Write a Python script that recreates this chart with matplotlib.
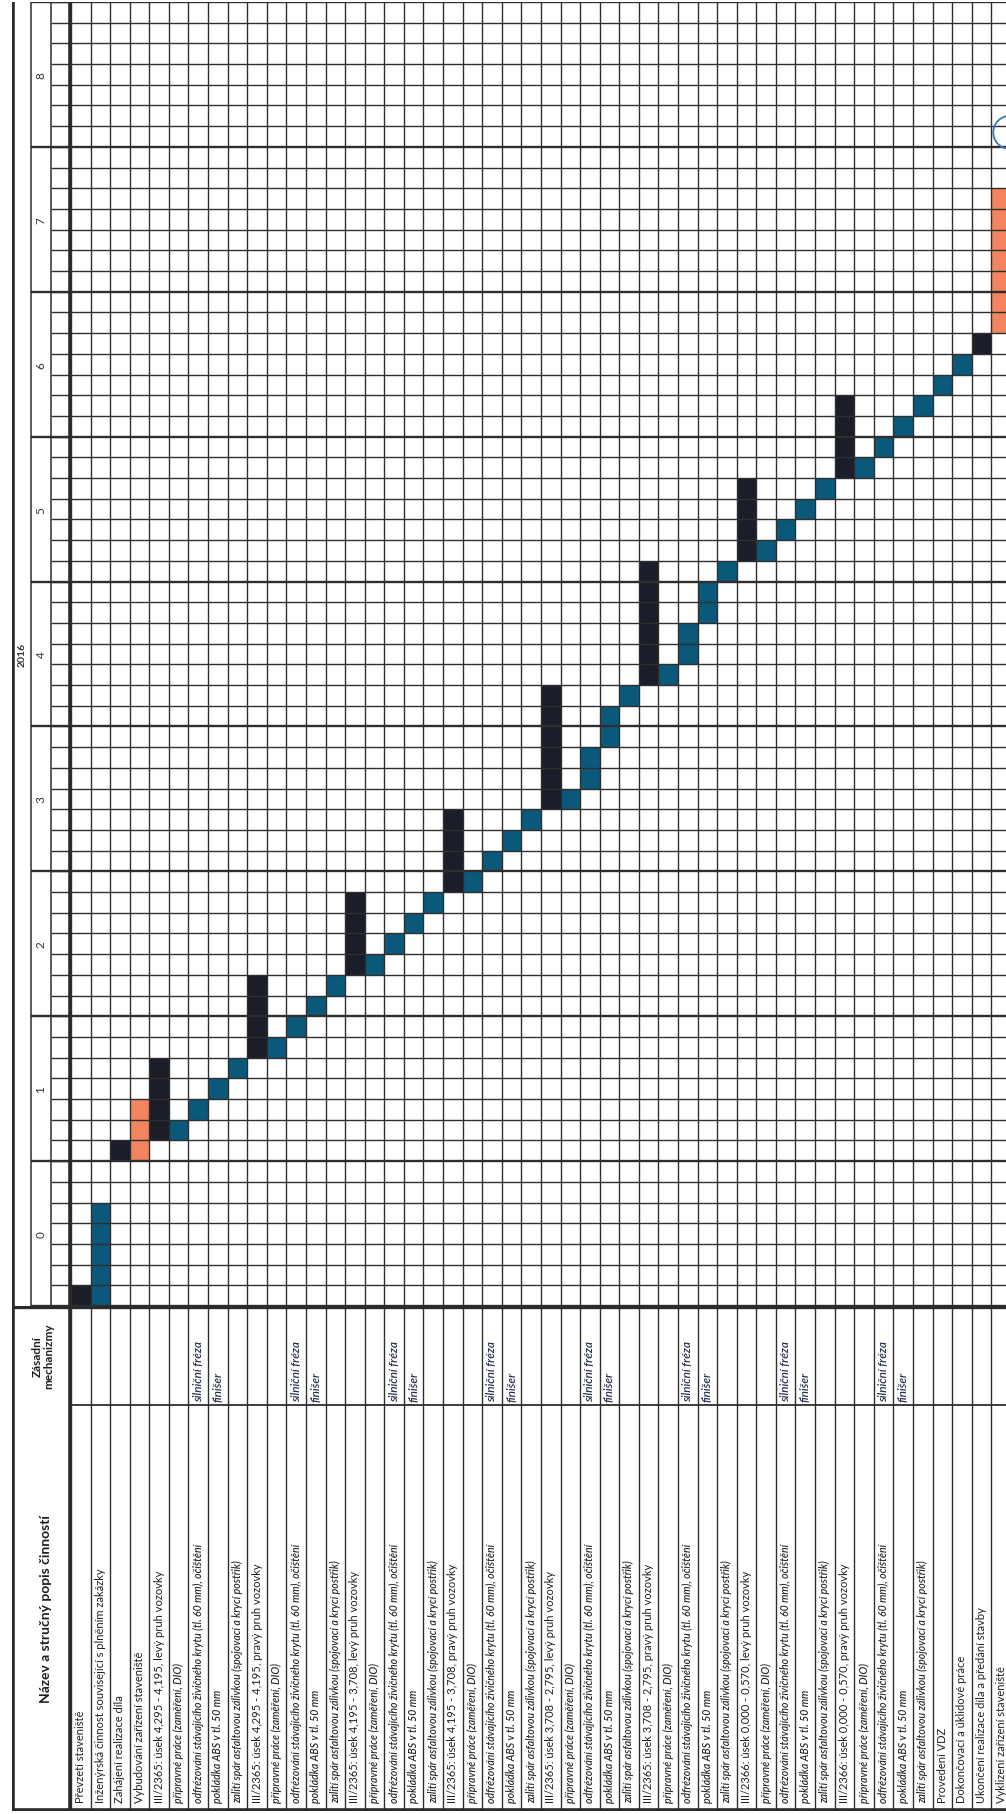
import numpy as np
import matplotlib.pyplot as plt
from matplotlib.patches import Arc

plt.rcParams['font.family'] = ['Lato', 'DejaVu Sans']

# --- data ---------------------------------------------------------------
year_label = '2016'
week_labels = ['0', '1', '2', '3', '4', '5', '6', '7', '8']
days_per_week = 7

sections = [
    'III/2365: úsek 4,295 - 4,195, levý pruh vozovky',
    'III/2365: úsek 4,295 - 4,195, pravý pruh vozovky',
    'III/2365: úsek 4,195 - 3,708, levý pruh vozovky',
    'III/2365: úsek 4,195 - 3,708, pravý pruh vozovky',
    'III/2365: úsek 3,708 - 2,795, levý pruh vozovky',
    'III/2365: úsek 3,708 - 2,795, pravý pruh vozovky',
    'III/2366: úsek 0,000 - 0,570, levý pruh vozovky',
    'III/2366: úsek 0,000 - 0,570, pravý pruh vozovky',
]
sub_tasks = [
    'přípravné práce (zaměření, DIO)',
    'odfrézování stávajícího živičného krytu (tl. 60 mm), očištění',
    'pokládka ABS v tl. 50 mm',
    'zalití spár asfaltovou zálivkou (spojovací a krycí postřik)',
]
sub_mech = ['', 'silniční fréza', 'finišer', '']
first_tasks = [
    'Převzetí staveniště',
    'Inženýrská činnost související s plněním zakázky',
    'Zahájení realizace díla',
    'Vybudování zařízení staveniště',
]
last_tasks = [
    'Provedení VDZ',
    'Dokončovací a úklidové práce',
    'Ukončení realizace díla a předání stavby',
    'Vyklizení zařízení staveniště',
]

# start day, length in days, colour kind  (k = black, b = blue, o = orange)
starts = [0, 0, 7, 7,
          8, 8, 9, 10, 11,
          12, 12, 13, 14, 15,
          16, 16, 17, 18, 19,
          20, 20, 21, 22, 23,
          24, 24, 25, 27, 29,
          30, 30, 31, 33, 35,
          36, 36, 37, 38, 39,
          40, 40, 41, 42, 43,
          44, 45, 46, 47]
durations = [1, 5, 1, 3,
             4, 1, 1, 1, 1,
             4, 1, 1, 1, 1,
             4, 1, 1, 1, 1,
             4, 1, 1, 1, 1,
             6, 1, 2, 2, 1,
             6, 1, 2, 2, 1,
             4, 1, 1, 1, 1,
             4, 1, 1, 1, 1,
             1, 1, 1, 7]
kinds = ['k', 'b', 'k', 'o'] + ['k', 'b', 'b', 'b', 'b'] * 8 + ['b', 'b', 'k', 'o']

names = list(first_tasks)
mech = [''] * len(first_tasks)
levels = ['top'] * len(first_tasks)
for s in sections:
    names.append(s)
    mech.append('')
    levels.append('section')
    for t, m in zip(sub_tasks, sub_mech):
        names.append(t)
        mech.append(m)
        levels.append('sub')
names += last_tasks
mech += [''] * len(last_tasks)
levels += ['top'] * len(last_tasks)

colors = {'k': '#1b1e28', 'b': '#0a587a', 'o': '#f2845e'}
line_c = '#2e2e2e'
text_c = '#1e1e1e'

# --- layout (pixels) ----------------------------------------------------
W, H = 1006, 1815
grid_left, grid_bottom, grid_top = 71, 1307, 3
task_w = 19.58
table_bottom = 1812
mech_split = 1406
left_border, year_right, week_right = 12, 31, 51
n_days = days_per_week * len(week_labels)
n_tasks = len(names)
x_max = (W - grid_left) / task_w

fig = plt.figure(figsize=(W / 100, H / 100), dpi=100)
fig.patch.set_facecolor('white')

def fx(p):
    return p / W

def fy(p):
    return 1 - p / H

# main grid
ax = fig.add_axes([fx(grid_left), fy(grid_bottom), 1 - fx(grid_left), (grid_bottom - grid_top) / H])
ax.bar(np.arange(n_tasks), durations, bottom=starts, width=1, align='edge',
       color=[colors[k] for k in kinds], linewidth=0, zorder=1)
for i in range(n_tasks + 1):
    ax.axvline(i, color=line_c, lw=1.0, zorder=2)
for d in range(n_days + 1):
    ax.axhline(d, color=line_c, lw=1.7 if d % days_per_week == 0 else 1.0, zorder=2)
ax.add_patch(Arc((x_max + 0.2, 56.7), 1.7, 1.6, theta1=95, theta2=265,
                 color='#3b78c0', lw=1.3, zorder=3))
ax.set_xlim(0, x_max)
ax.set_ylim(0, n_days)
ax.axis('off')

# time header on the left
at = fig.add_axes([fx(left_border), fy(grid_bottom), fx(grid_left - left_border), (grid_bottom - grid_top) / H])
at.set_xlim(left_border, grid_left)
at.set_ylim(0, n_days)
at.axis('off')
for d in range(n_days + 1):
    at.hlines(d, week_right, grid_left, color=line_c, lw=1.0)
for w in range(len(week_labels) + 1):
    at.hlines(w * days_per_week, year_right, grid_left, color=line_c, lw=1.7)
at.axvline(year_right, color=line_c, lw=1.1)
at.axvline(week_right, color=line_c, lw=1.1)
at.axvline(left_border + 1, color='#2a2a2a', lw=2.6)
at.axvline(grid_left - 1, color='#2a2a2a', lw=2.6)
for w, lab in enumerate(week_labels):
    at.text((year_right + week_right) / 2, w * days_per_week + days_per_week / 2, lab,
            rotation=90, ha='center', va='center', fontsize=8.5, color='#333333')
at.text((left_border + year_right) / 2 + 1, n_days / 2, year_label, rotation=90,
        ha='center', va='center', fontsize=7.5, fontweight='bold', color='#333333')

# task labels below
al = fig.add_axes([fx(grid_left), fy(table_bottom), 1 - fx(grid_left), (table_bottom - grid_bottom) / H])
al.set_xlim(0, x_max)
al.set_ylim(table_bottom, grid_bottom)
al.axis('off')
for i in range(n_tasks + 1):
    al.axvline(i, color=line_c, lw=1.0)
al.axhline(mech_split, color=line_c, lw=1.3)
al.axhline(grid_bottom + 1, color='#2a2a2a', lw=2.4)
al.axhline(table_bottom - 1, color='#2a2a2a', lw=2.6)
for i, (nm, lv) in enumerate(zip(names, levels)):
    if lv == 'sub':
        al.text(i + 0.5, table_bottom - 9, nm, rotation=90, rotation_mode='anchor',
                ha='left', va='center', fontsize=7.6, fontstyle='italic',
                fontweight='semibold', color='#2a2a2a')
    else:
        al.text(i + 0.5, table_bottom - 9, nm, rotation=90, rotation_mode='anchor',
                ha='left', va='center', fontsize=8, color=text_c)
for i, m in enumerate(mech):
    if m:
        al.text(i + 0.5, mech_split - 4, m, rotation=90, rotation_mode='anchor',
                ha='left', va='center', fontsize=8.5, fontstyle='italic',
                fontweight='semibold', color='#27304d')

# header cell bottom-left
ah = fig.add_axes([fx(left_border), fy(table_bottom), fx(grid_left - left_border), (table_bottom - grid_bottom) / H])
ah.set_xlim(left_border, grid_left)
ah.set_ylim(table_bottom, grid_bottom)
ah.axis('off')
ah.axvline(left_border + 1, color='#2a2a2a', lw=2.6)
ah.axvline(grid_left - 1, color='#2a2a2a', lw=2.6)
ah.axhline(grid_bottom + 1, color='#2a2a2a', lw=2.4)
ah.axhline(table_bottom - 1, color='#2a2a2a', lw=2.6)
ah.text(46, (mech_split + table_bottom) / 2, 'Název a stručný popis činností', rotation=90,
        ha='center', va='center', fontsize=10, fontweight='bold', color=text_c)
ah.text(43, (grid_bottom + mech_split) / 2, 'Zásadní\nmechanizmy', rotation=90,
        ha='center', va='center', multialignment='center', fontsize=8.5,
        fontweight='bold', color=text_c, linespacing=1.1)

fig.savefig('out.png', dpi=100)
